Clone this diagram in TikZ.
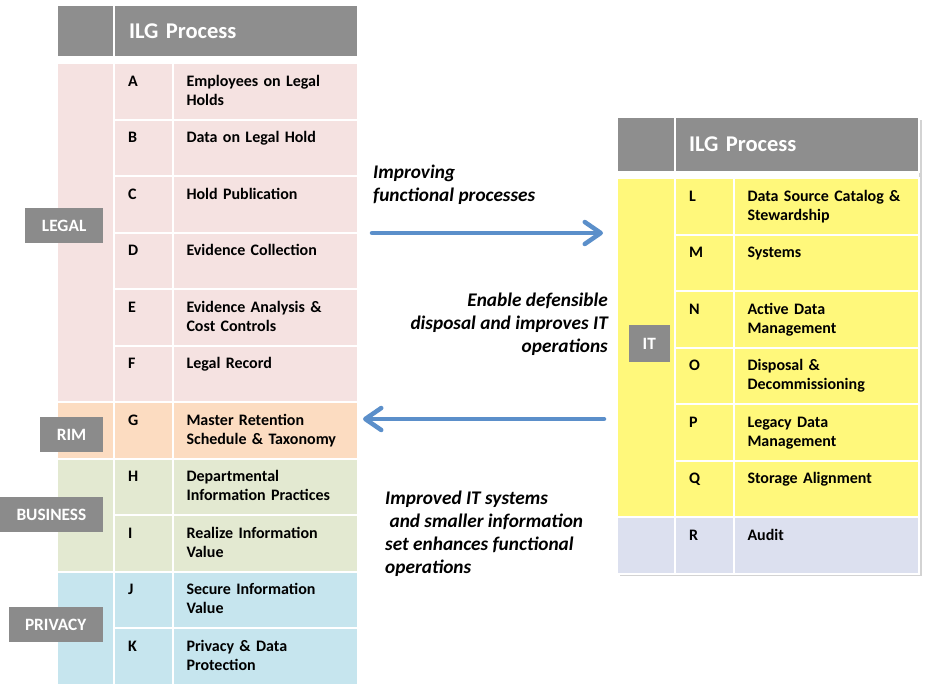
\documentclass[tikz,border=0pt]{standalone}
\usepackage{fontspec}
\setmainfont{Carlito}
\usetikzlibrary{arrows.meta,positioning,shadows}

\definecolor{hdrgray}{HTML}{8E8E8E}
\definecolor{lblgray}{HTML}{8B8B8B}
\definecolor{legalpink}{HTML}{F5E2E1}
\definecolor{rimpeach}{HTML}{FCDCC1}
\definecolor{busgreen}{HTML}{E3E9D1}
\definecolor{privblue}{HTML}{C6E5EE}
\definecolor{ityellow}{HTML}{FFF87B}
\definecolor{auditlav}{HTML}{DCE0EF}
\definecolor{flowblue}{HTML}{5B8FCA}

\tikzset{
  cell/.style={anchor=north west, draw=white, line width=2pt, outer sep=0pt,
    inner ysep=0pt, text height=23pt, text depth=33.5pt, align=left,
    font=\fontsize{16}{19}\selectfont\bfseries},
  ltr/.style={cell, fill=#1, inner xsep=14pt, text width=31pt},
  txt/.style={cell, fill=#1, inner xsep=13.5pt, text width=158pt},
  band/.style={anchor=north west, draw=white, line width=2pt, outer sep=0pt,
    inner sep=0pt, fill=#1, minimum width=57pt},
  hdr/.style={anchor=north west, draw=white, line width=2pt, outer sep=0pt,
    inner ysep=0pt, fill=hdrgray, text=white,
    font=\fontsize{22.5}{26}\selectfont\bfseries},
  cat/.style={anchor=east, fill=lblgray, text=white, inner xsep=16.5pt,
    inner ysep=0pt, minimum height=35pt,
    font=\fontsize{17.3}{20}\selectfont\bfseries},
  note/.style={inner sep=0pt, font=\fontsize{19.3}{23}\selectfont\bfseries\itshape},
  flow/.style={line width=4.5pt, flowblue, line cap=round,
    -{Straight Barb[length=16pt,width=22pt,round]}}
}

\begin{document}
\begin{tikzpicture}[x=1pt, y=-1pt]
  \useasboundingbox (0,0) rectangle (928,686);

  % left table: header
  \node[hdr, minimum width=57pt, minimum height=52pt] (lh0) at (57,5) {};
  \node[hdr, right=0pt of lh0, minimum height=52pt, inner xsep=15pt,
    text width=214pt, align=left] (lh) {ILG Process};

  % left table: category bands
  \node[band=legalpink, minimum height=339pt] (legal) at (57,63) {};
  \node[band=rimpeach, minimum height=56.5pt, below=0pt of legal] (rim) {};
  \node[band=busgreen, minimum height=113pt, below=0pt of rim] (bus) {};
  \node[band=privblue, minimum height=113pt, below=0pt of bus] (priv) {};

  % left table: rows
  \node[txt=legalpink] (tA) at (173,63) {Employees on Legal\\Holds};
  \node[ltr=legalpink, left=0pt of tA] (lA) {A};
  \node[txt=legalpink, below=0pt of tA] (tB) {Data on Legal Hold};
  \node[ltr=legalpink, left=0pt of tB] (lB) {B};
  \node[txt=legalpink, below=0pt of tB] (tC) {Hold Publication};
  \node[ltr=legalpink, left=0pt of tC] (lC) {C};
  \node[txt=legalpink, below=0pt of tC] (tD) {Evidence Collection};
  \node[ltr=legalpink, left=0pt of tD] (lD) {D};
  \node[txt=legalpink, below=0pt of tD] (tE) {Evidence Analysis \&\\Cost Controls};
  \node[ltr=legalpink, left=0pt of tE] (lE) {E};
  \node[txt=legalpink, below=0pt of tE] (tF) {Legal Record};
  \node[ltr=legalpink, left=0pt of tF] (lF) {F};
  \node[txt=rimpeach, below=0pt of tF] (tG) {Master Retention\\Schedule \& Taxonomy};
  \node[ltr=rimpeach, left=0pt of tG] (lG) {G};
  \node[txt=busgreen, below=0pt of tG] (tH) {Departmental\\Information Practices};
  \node[ltr=busgreen, left=0pt of tH] (lH) {H};
  \node[txt=busgreen, below=0pt of tH] (tI) {Realize Information\\Value};
  \node[ltr=busgreen, left=0pt of tI] (lI) {I};
  \node[txt=privblue, below=0pt of tI] (tJ) {Secure Information\\Value};
  \node[ltr=privblue, left=0pt of tJ] (lJ) {J};
  \node[txt=privblue, below=0pt of tJ] (tK) {Privacy \& Data\\Protection};
  \node[ltr=privblue, left=0pt of tK] (lK) {K};

  % left table: category labels
  \node[cat] (legalLbl) at (103,225.5) {LEGAL};
  \node[cat] (rimLbl) at (103,434.5) {RIM};
  \node[cat] (busLbl) at (103,514.5) {BUSINESS};
  \node[cat] (privLbl) at (103,624.5) {PRIVACY};

  % right table: shadow, header
  \path[fill=white, drop shadow={shadow xshift=2.5pt, shadow yshift=-2.5pt,
    opacity=0.35}] (617,117) rectangle (919,573.5);
  \node[hdr, minimum width=58pt, minimum height=54.5pt] (rh0) at (617,117) {};
  \node[hdr, right=0pt of rh0, minimum height=54.5pt, inner xsep=14pt,
    text width=216pt, align=left] (rh) {ILG Process};

  % right table: category bands
  \node[band=ityellow, minimum width=58pt, minimum height=339pt] (it) at (617,178) {};
  \node[band=auditlav, minimum width=58pt, minimum height=56.5pt, below=0pt of it] (aud) {};

  % right table: rows
  \node[txt=ityellow] (tL) at (734,178) {Data Source Catalog \&\\Stewardship};
  \node[ltr=ityellow, left=0pt of tL] (lL) {L};
  \node[txt=ityellow, below=0pt of tL] (tM) {Systems};
  \node[ltr=ityellow, left=0pt of tM] (lM) {M};
  \node[txt=ityellow, below=0pt of tM] (tN) {Active Data\\Management};
  \node[ltr=ityellow, left=0pt of tN] (lN) {N};
  \node[txt=ityellow, below=0pt of tN] (tO) {Disposal \&\\Decommissioning};
  \node[ltr=ityellow, left=0pt of tO] (lO) {O};
  \node[txt=ityellow, below=0pt of tO] (tP) {Legacy Data\\Management};
  \node[ltr=ityellow, left=0pt of tP] (lP) {P};
  \node[txt=ityellow, below=0pt of tP] (tQ) {Storage Alignment};
  \node[ltr=ityellow, left=0pt of tQ] (lQ) {Q};
  \node[txt=auditlav, below=0pt of tQ] (tR) {Audit};
  \node[ltr=auditlav, left=0pt of tR] (lR) {R};

  \node[cat, minimum height=37pt, inner xsep=14pt] (itLbl) at (670,343.5) {IT};

  % flows between the tables
  \node[note, anchor=north west, align=left] (fwdTxt) at (373,165)
    {Improving\\functional processes};
  \coordinate (fwdS) at (372,233);
  \coordinate (fwdE) at (603,233);
  \draw[flow] (fwdS) -- (fwdE);

  \node[note, anchor=north east, align=right] (bwdTxt) at (608,293)
    {Enable defensible\\disposal and improves IT\\operations};
  \coordinate (bwdS) at (604,419);
  \coordinate (bwdE) at (363,419);
  \draw[flow] (bwdS) -- (bwdE);

  \node[note, anchor=north west, align=left] (itTxt) at (385,491)
    {Improved IT systems\\\ and smaller information\\set enhances functional\\operations};
\end{tikzpicture}
\end{document}
